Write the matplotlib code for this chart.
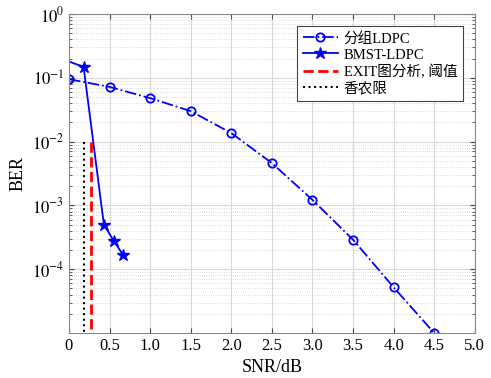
import matplotlib
matplotlib.use("Agg")
import matplotlib.pyplot as plt
from matplotlib.ticker import LogLocator, NullFormatter

plt.rcParams['font.family'] = ['Liberation Serif', 'Noto Sans CJK SC']
plt.rcParams['mathtext.fontset'] = 'stix'

# Data
snr_ldpc = [0, 0.5, 1.0, 1.5, 2.0, 2.5, 3.0, 3.5, 4.0, 4.5]
ber_ldpc = [0.095, 0.072, 0.048, 0.030, 0.0136, 0.0046, 0.00122, 0.00029, 5.2e-5, 1.0e-5]
snr_bmst = [0.0, 0.18, 0.43, 0.55, 0.67]
ber_bmst = [0.18, 0.148, 5.0e-4, 2.8e-4, 1.65e-4]
exit_threshold = 0.27
shannon_limit = 0.19
vline_top = 1e-2
xtick_vals = [0, 0.5, 1.0, 1.5, 2.0, 2.5, 3.0, 3.5, 4.0, 4.5, 5.0]
xtick_labels = ['0', '0.5', '1.0', '1.5', '2.0', '2.5', '3.0', '3.5', '4.0', '4.5', '5.0']
ytick_vals = [1e0, 1e-1, 1e-2, 1e-3, 1e-4]
ytick_labels = [r'$10^{0}$', r'$10^{-1}$', r'$10^{-2}$', r'$10^{-3}$', r'$10^{-4}$']

fig = plt.figure(figsize=(4.91, 3.78), dpi=100)
ax = fig.add_axes([0.1405, 0.119, 0.8265, 0.844])

ax.semilogy(snr_ldpc, ber_ldpc, '-.', color='blue', marker='o', markersize=6,
            markerfacecolor='none', markeredgewidth=1.3, linewidth=1.3, label='分组LDPC')
ax.semilogy(snr_bmst, ber_bmst, '-', color='blue', marker='*', markersize=9,
            markevery=[1, 2, 3, 4], linewidth=1.3, label='BMST-LDPC')
ax.semilogy([exit_threshold, exit_threshold], [vline_top, 1e-5], '--', color='red',
            linewidth=2, label='EXIT图分析, 阈值')
ax.semilogy([shannon_limit, shannon_limit], [vline_top, 1e-5], ':', color='black',
            linewidth=1.5, label='香农限')

ax.set_xlim(0, 5.0)
ax.set_ylim(1e-5, 1e0)
ax.set_xticks(xtick_vals)
ax.set_xticklabels(xtick_labels)
ax.set_yticks(ytick_vals)
ax.set_yticklabels(ytick_labels)
ax.yaxis.set_minor_locator(LogLocator(base=10, subs=range(2, 10)))
ax.yaxis.set_minor_formatter(NullFormatter())

ax.grid(True, which='major', color='#d8d8d8', linewidth=0.8, linestyle='-')
ax.grid(True, which='minor', axis='y', color='#d0d0d0', linewidth=0.6, linestyle=':')
ax.set_axisbelow(True)
ax.tick_params(which='both', direction='in', top=True, right=True, labelsize=12, color='#444444')
ax.tick_params(which='minor', length=2)
for s in ax.spines.values():
    s.set_color('#888888')
    s.set_linewidth(0.8)

ax.set_xlabel('SNR/dB', fontsize=13)
ax.set_ylabel('BER', fontsize=13)

leg = ax.legend(loc='upper right', fontsize=10.5, fancybox=False, edgecolor='#444444',
                framealpha=1, borderaxespad=0.8, handlelength=2.4, labelspacing=0.2,
                borderpad=0.4, handletextpad=0.4)
leg.get_frame().set_linewidth(0.8)

fig.savefig('out.png', dpi=100)
